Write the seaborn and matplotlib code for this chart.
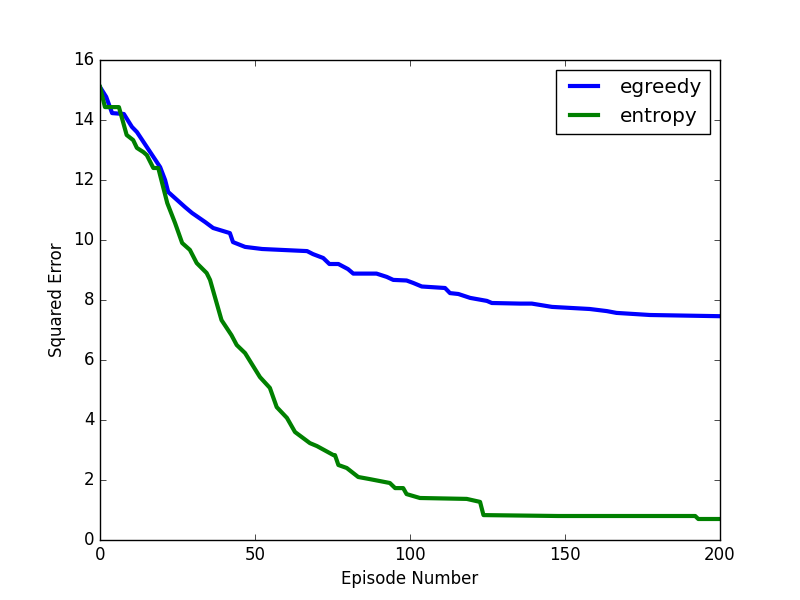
import matplotlib
matplotlib.use("Agg")
import matplotlib.pyplot as plt
import seaborn as sns
import pandas as pd

egreedy_x = [0, 2, 3.9, 7.7, 10.3, 11.9, 19.4, 21, 22, 27.4, 29.7, 33.9, 36.5, 41.9, 42.9,
             46.8, 52.3, 66.8, 68.7, 72, 74, 76.9, 80, 81.7, 89.2, 92.5, 94.6, 98.9, 101,
             103.8, 111.3, 112.9, 115.6, 119.4, 124.8, 126.4, 135.5, 139.3, 145.8, 158,
             163.5, 166.6, 177.4, 200]
egreedy_y = [15.1, 14.77, 14.23, 14.2, 13.77, 13.6, 12.43, 12.0, 11.6, 11.1, 10.9, 10.6, 10.4,
             10.23, 9.93, 9.77, 9.7, 9.63, 9.53, 9.4, 9.2, 9.2, 9.03, 8.88, 8.88, 8.77, 8.67,
             8.65, 8.57, 8.45, 8.4, 8.23, 8.2, 8.07, 7.97, 7.9, 7.88, 7.88, 7.77, 7.7, 7.63,
             7.57, 7.5, 7.46]

entropy_x = [0, 1.6, 6.1, 8.6, 10.7, 11.9, 14, 15.1, 17.2, 18.8, 21.7, 24.2, 26.5, 29, 31.2,
             34.4, 35.5, 39.2, 42.4, 44.1, 46.8, 51.6, 54.8, 57, 60.3, 62.9, 65.5, 67.7, 70,
             75.3, 75.8, 76.9, 79.6, 83.3, 87, 93.5, 95.2, 97.8, 98.9, 103.2, 118.3, 122.6,
             123.7, 147.8, 192, 193, 200]
entropy_y = [15.1, 14.43, 14.43, 13.5, 13.33, 13.07, 12.93, 12.83, 12.4, 12.4, 11.23, 10.57,
             9.9, 9.67, 9.23, 8.9, 8.67, 7.33, 6.83, 6.5, 6.23, 5.43, 5.07, 4.43, 4.07, 3.6,
             3.4, 3.23, 3.13, 2.83, 2.83, 2.5, 2.4, 2.1, 2.03, 1.9, 1.73, 1.73, 1.53, 1.4,
             1.37, 1.27, 0.83, 0.8, 0.8, 0.7, 0.7]

plt.style.use("classic")
plt.rcParams["font.family"] = ["DejaVu Sans"]

df = pd.concat([
    pd.DataFrame({"x": egreedy_x, "y": egreedy_y, "method": "egreedy"}),
    pd.DataFrame({"x": entropy_x, "y": entropy_y, "method": "entropy"}),
])

fig = plt.figure(figsize=(8, 6), dpi=100, facecolor="white")
ax = fig.add_axes([0.125, 0.1, 0.775, 0.8])
ax.set_facecolor("white")
sns.lineplot(data=df, x="x", y="y", hue="method", palette={"egreedy": "b", "entropy": "g"},
             linewidth=3, ax=ax, estimator=None, sort=False)
ax.set_xlim(0, 200)
ax.set_ylim(0, 16)
ax.set_xlabel("Episode Number")
ax.set_ylabel("Squared Error")
leg = ax.legend(loc="upper right", fontsize="large")
leg.set_title(None)
fig.savefig("out.png", dpi=100, facecolor="white")
